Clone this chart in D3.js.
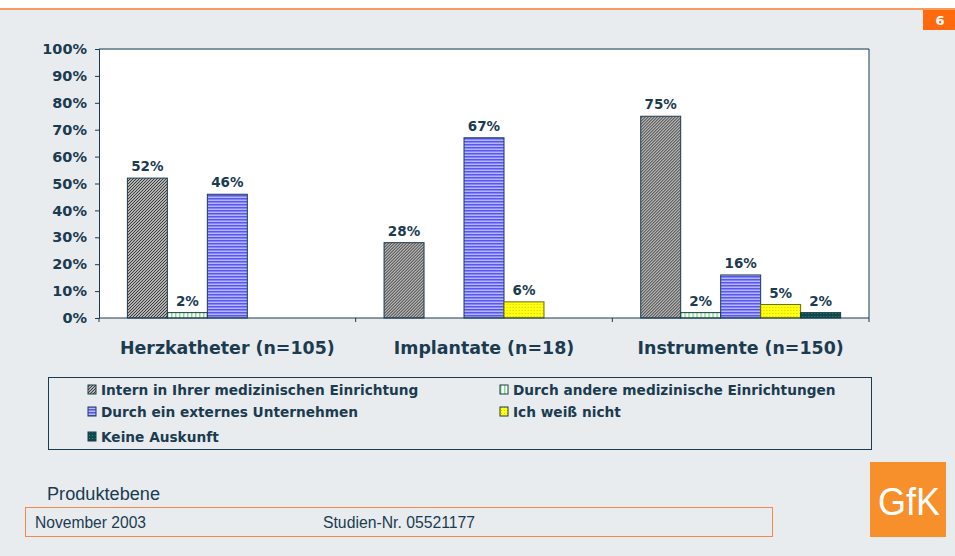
<!DOCTYPE html>
<html>
<head>
<meta charset="utf-8">
<script src="https://cdn.jsdelivr.net/npm/d3@7"></script>
<style>
  body { margin: 0; background: #e8ecee; }
  svg { display: block; }
</style>
</head>
<body>
<svg id="chart" width="955" height="556"></svg>
<script>
// data
const categories = ["Herzkatheter (n=105)", "Implantate (n=18)", "Instrumente (n=150)"];
const seriesNames = [
  "Intern in Ihrer medizinischen Einrichtung",
  "Durch andere medizinische Einrichtungen",
  "Durch ein externes Unternehmen",
  "Ich weiß nicht",
  "Keine Auskunft"
];
const intern = [52, 28, 75];
const andere = [2, 0, 2];
const extern = [46, 67, 16];
const weissNicht = [0, 6, 5];
const keine = [0, 0, 2];
const yTicks = [0, 10, 20, 30, 40, 50, 60, 70, 80, 90, 100];

const values = [intern, andere, extern, weissNicht, keine];
const textCol = "#1b3b50";
const boldFont = "Verdana, 'DejaVu Sans', sans-serif";

let svg = d3.select("#chart");
let W = 955, H = 556;

// background + header
svg.append("rect").attr("width", W).attr("height", H).attr("fill", "#e8ecee");
svg.append("rect").attr("width", W).attr("height", 8).attr("fill", "#ffffff");
svg.append("rect").attr("y", 8).attr("width", W).attr("height", 2).attr("fill", "#f79a5a");
svg.append("rect").attr("x", 923).attr("y", 10).attr("width", 32).attr("height", 20).attr("fill", "#ff6a0e");
svg.append("text").attr("x", 940).attr("y", 25).attr("text-anchor", "middle")
  .attr("fill", "#fff").style("font", "bold 13px " + boldFont).text("6");

// patterns
let defs = svg.append("defs");
function pat(id, size, bg, draw) {
  let p = defs.append("pattern").attr("id", id).attr("patternUnits", "userSpaceOnUse")
    .attr("width", size).attr("height", size);
  p.append("rect").attr("width", size).attr("height", size).attr("fill", bg);
  draw(p);
}
pat("p0", 3, "#eeeeee", p => {
  p.append("path").attr("d", "M-1,1 L1,-1 M0,3 L3,0 M2,4 L4,2").attr("stroke", "#333").attr("stroke-width", 1.2);
});
pat("p1", 4, "#ffffff", p => {
  p.append("rect").attr("x", 0).attr("width", 1.5).attr("height", 4).attr("fill", "#7ee07e");
});
pat("p2", 3, "#b4b4ff", p => {
  p.append("rect").attr("y", 0).attr("width", 3).attr("height", 1.5).attr("fill", "#5858ee");
});
pat("p3", 3, "#ffff10", p => {
  p.append("rect").attr("x", 1).attr("y", 1).attr("width", 1).attr("height", 1).attr("fill", "#d8c800");
});
pat("p4", 3, "#0d4a48", p => {
  p.append("rect").attr("x", 1).attr("y", 1).attr("width", 1).attr("height", 1).attr("fill", "#2a8a80");
});
const fills = ["url(#p0)", "url(#p1)", "url(#p2)", "url(#p3)", "url(#p4)"];

// scales
let plotL = 99, plotR = 869, plotT = 49, plotB = 318;
let x0 = d3.scaleBand().domain(categories).range([plotL, plotR]);
let x1 = d3.scaleBand().domain(d3.range(seriesNames.length)).range([0, x0.bandwidth()]).paddingOuter(0.71);
let y = d3.scaleLinear().domain([0, 100]).range([plotB, plotT]);

// plot area
svg.append("rect").attr("x", plotL).attr("y", plotT).attr("width", plotR - plotL).attr("height", plotB - plotT).attr("fill", "#fff");
svg.append("line").attr("x1", plotL).attr("x2", plotR).attr("y1", plotT).attr("y2", plotT).attr("stroke", "#7d93a0").attr("stroke-width", 2);
svg.append("line").attr("x1", plotR).attr("x2", plotR).attr("y1", plotT).attr("y2", plotB).attr("stroke", "#1b3b50");

// bars
let groups = svg.append("g").selectAll("g").data(categories).join("g")
  .attr("transform", d => `translate(${x0(d)},0)`);
groups.each(function (cat, ci) {
  let rows = seriesNames.map((s, si) => ({ si, v: values[si][ci] })).filter(d => d.v > 0);
  let g = d3.select(this);
  g.selectAll("rect").data(rows).join("rect")
    .attr("x", d => x1(d.si))
    .attr("y", d => y(d.v))
    .attr("width", x1.bandwidth())
    .attr("height", d => y(0) - y(d.v))
    .attr("fill", d => fills[d.si])
    .attr("stroke", d => d.si === 3 ? "#6a6a10" : "#1b3b50")
    .attr("stroke-width", 1);
  g.selectAll("text").data(rows).join("text")
    .attr("x", d => x1(d.si) + x1.bandwidth() / 2)
    .attr("y", d => y(d.v) - 7)
    .attr("text-anchor", "middle")
    .attr("fill", textCol)
    .style("font", "bold 13.5px " + boldFont)
    .text(d => d.v + "%");
});

// y axis
let yAxis = svg.append("g").attr("transform", `translate(${plotL},0)`)
  .call(d3.axisLeft(y).tickValues(yTicks).tickSize(4).tickFormat(d => d + "%"));
yAxis.select(".domain").attr("stroke", "#1b3b50");
yAxis.selectAll(".tick line").attr("stroke", "#1b3b50");
yAxis.selectAll("text").attr("fill", textCol).attr("x", -12).style("font", "bold 14.5px " + boldFont);

// x axis
let xAxis = svg.append("g").attr("transform", `translate(0,${plotB})`);
xAxis.append("line").attr("x1", plotL).attr("x2", plotR).attr("stroke", "#1b3b50");
xAxis.selectAll("line.sep").data([plotL].concat(categories.map(c => x0(c) + x0.bandwidth())))
  .join("line").attr("class", "sep")
  .attr("x1", d => d).attr("x2", d => d).attr("y1", 0).attr("y2", 4).attr("stroke", "#1b3b50");
xAxis.selectAll("text").data(categories).join("text")
  .attr("x", d => x0(d) + x0.bandwidth() / 2)
  .attr("y", 36)
  .attr("text-anchor", "middle")
  .attr("fill", textCol)
  .style("font", "bold 17.4px " + boldFont)
  .text(d => d);

// legend
svg.append("rect").attr("x", 48.5).attr("y", 377.5).attr("width", 823).attr("height", 72)
  .attr("fill", "none").attr("stroke", "#1b3b50");
const legendPos = [[88, 390], [500, 390], [88, 412], [500, 412], [88, 437]];
let leg = svg.append("g").selectAll("g").data(seriesNames).join("g")
  .attr("transform", (d, i) => `translate(${legendPos[i][0]},${legendPos[i][1]})`);
leg.append("rect").attr("x", 0).attr("y", -5).attr("width", 8).attr("height", 9)
  .attr("fill", (d, i) => fills[i]).attr("stroke", "#1b3b50");
leg.append("text").attr("x", 13).attr("y", 5).attr("fill", textCol)
  .style("font", "bold 13.7px " + boldFont).text(d => d);

// footer
const narrow = "'Liberation Sans Narrow', 'Arial Narrow', sans-serif";
svg.append("text").attr("x", 47).attr("y", 500).attr("fill", textCol)
  .attr("textLength", 113).attr("lengthAdjust", "spacingAndGlyphs")
  .style("font", "18px " + narrow).text("Produktebene");
svg.append("rect").attr("x", 25.5).attr("y", 507.5).attr("width", 747).attr("height", 29)
  .attr("fill", "none").attr("stroke", "#f2884a");
svg.append("text").attr("x", 35).attr("y", 528).attr("fill", textCol)
  .attr("textLength", 111).attr("lengthAdjust", "spacingAndGlyphs")
  .style("font", "16px " + narrow).text("November 2003");
svg.append("text").attr("x", 323).attr("y", 528).attr("fill", textCol)
  .attr("textLength", 152).attr("lengthAdjust", "spacingAndGlyphs")
  .style("font", "16px " + narrow).text("Studien-Nr. 05521177");
svg.append("rect").attr("x", 870).attr("y", 462).attr("width", 76).attr("height", 75).attr("fill", "#f7902a");
svg.append("text").attr("x", 878).attr("y", 515).attr("fill", "#fff")
  .attr("textLength", 62).attr("lengthAdjust", "spacingAndGlyphs")
  .style("font", "38px " + narrow).text("GfK");
</script>
</body>
</html>
